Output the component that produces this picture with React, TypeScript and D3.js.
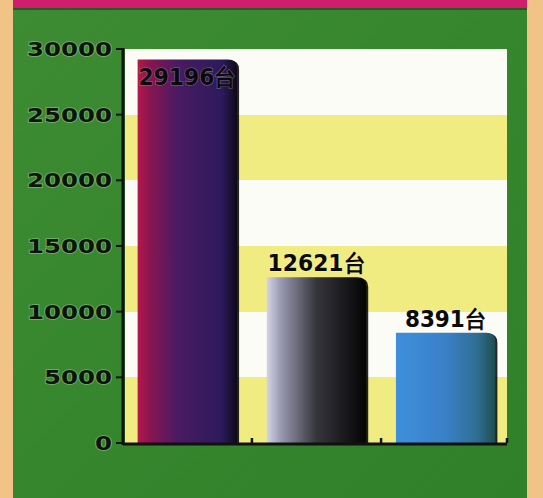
import React from 'react';
import * as d3 from 'd3';

const categories = ['A', 'B', 'C'];
const values = [29196, 12621, 8391];
const valueLabels = ['29196台', '12621台', '8391台'];
const yTicks = [0, 5000, 10000, 15000, 20000, 25000, 30000];

const gradients = [
  [
    ['0%', '#b5184a'],
    ['12%', '#8a1550'],
    ['40%', '#4a1a62'],
    ['85%', '#2c1a5c'],
    ['100%', '#0e0818'],
  ],
  [
    ['0%', '#d4d4e6'],
    ['15%', '#9696ae'],
    ['50%', '#35353c'],
    ['100%', '#040404'],
  ],
  [
    ['0%', '#3f8fdc'],
    ['50%', '#3a80c8'],
    ['82%', '#2f6e92'],
    ['100%', '#1d4e4e'],
  ],
];

export default function App() {
  const W = 543;
  const H = 498;
  const left = 123;
  const right = 507;
  const top = 49;
  const bottom = 443;

  const x = d3
    .scaleBand<string>()
    .domain(categories)
    .range([126, right])
    .paddingInner(0.23)
    .paddingOuter(0.09);
  const y = d3.scaleLinear().domain([0, 30000]).range([bottom, top]);

  const bw = x.bandwidth();
  const step = x.step();
  const r = 9;

  const barPath = (x0: number, yt: number, w: number, yb: number) =>
    `M${x0},${yb}L${x0},${yt}L${x0 + w - r},${yt}Q${x0 + w},${yt} ${x0 + w},${yt + r}L${x0 + w},${yb}Z`;

  const bands = d3.range(yTicks.length - 1).map((i) => ({
    y0: Math.round(y(yTicks[i + 1])),
    y1: Math.round(y(yTicks[i])),
    fill: i % 2 === 0 ? '#f1ec82' : '#fbfcf6',
  }));

  const xTickPositions = categories.slice(1).map((c) => (x(c) as number) - (step - bw) / 2);

  return (
    <svg
      width={W}
      height={H}
      style={{ position: 'absolute', left: 0, top: 0 }}
      xmlns="http://www.w3.org/2000/svg"
    >
      <defs>
        {gradients.map((g, i) => (
          <linearGradient key={i} id={`bg${i}`} x1="0" x2="1" y1="0" y2="0">
            {g.map(([o, c], j) => (
              <stop key={j} offset={o} stopColor={c} />
            ))}
          </linearGradient>
        ))}
        <linearGradient id="green" x1="0" x2="1" y1="0" y2="1">
          <stop offset="0%" stopColor="#3d8c33" />
          <stop offset="50%" stopColor="#36862e" />
          <stop offset="100%" stopColor="#30802a" />
        </linearGradient>
      </defs>
      <rect x={0} y={0} width={W} height={H} fill="#f1c387" />
      <rect x={13} y={0} width={514} height={H} fill="url(#green)" />
      <rect x={13} y={0} width={514} height={8} fill="#cf1f6c" />
      <rect x={13} y={8} width={514} height={2} fill="#1e3a18" opacity={0.6} />

      {bands.map((b, i) => (
        <rect key={i} x={left + 2} y={b.y0} width={right - left - 2} height={b.y1 - b.y0} fill={b.fill} />
      ))}

      {values.map((v, i) => {
        const x0 = x(categories[i]) as number;
        return (
          <g key={i}>
            <path d={barPath(x0 + 2, y(v) + 1, bw, bottom)} fill="#000" opacity={0.85} />
            <path d={barPath(x0, y(v), bw, bottom)} fill={`url(#bg${i})`} />
          </g>
        );
      })}

      {/* axes */}
      <line x1={left} x2={left} y1={top - 1} y2={bottom + 2} stroke="#111" strokeWidth={3} />
      <line x1={left} x2={right} y1={bottom + 1} y2={bottom + 1} stroke="#111" strokeWidth={3} />
      {yTicks.map((t) => (
        <line key={t} x1={left - 7} x2={left} y1={y(t)} y2={y(t)} stroke="#111" strokeWidth={2} />
      ))}
      {xTickPositions.concat([right]).map((p, i) => (
        <line key={i} x1={p} x2={p} y1={bottom - 5} y2={bottom} stroke="#111" strokeWidth={2.5} />
      ))}

      {yTicks.map((t) => {
        const s = String(t);
        return (
          <text
            key={t}
            x={112}
            y={y(t) + 7}
            textAnchor="end"
            fontFamily="DejaVu Sans"
            fontWeight="bold"
            fontSize={20}
            textLength={s.length * 17}
            lengthAdjust="spacingAndGlyphs"
            fill="#0c140c"
            stroke="rgba(200,230,190,0.45)"
            strokeWidth={1.6}
            paintOrder="stroke"
          >
            {s}
          </text>
        );
      })}

      {values.map((v, i) => {
        const cx = (x(categories[i]) as number) + bw / 2;
        const inside = i === 0;
        const yy = inside ? y(v) + 25 : y(v) - 6;
        const lab = valueLabels[i];
        return (
          <text
            key={i}
            x={cx}
            y={yy}
            textAnchor="middle"
            fontFamily="DejaVu Sans"
            fontWeight="bold"
            fontSize={23}
            textLength={lab.length * 16.3}
            lengthAdjust="spacingAndGlyphs"
            fill="#0a0a0a"
            stroke="rgba(255,255,255,0.35)"
            strokeWidth={1.2}
            paintOrder="stroke"
          >
            {lab}
          </text>
        );
      })}
    </svg>
  );
}
